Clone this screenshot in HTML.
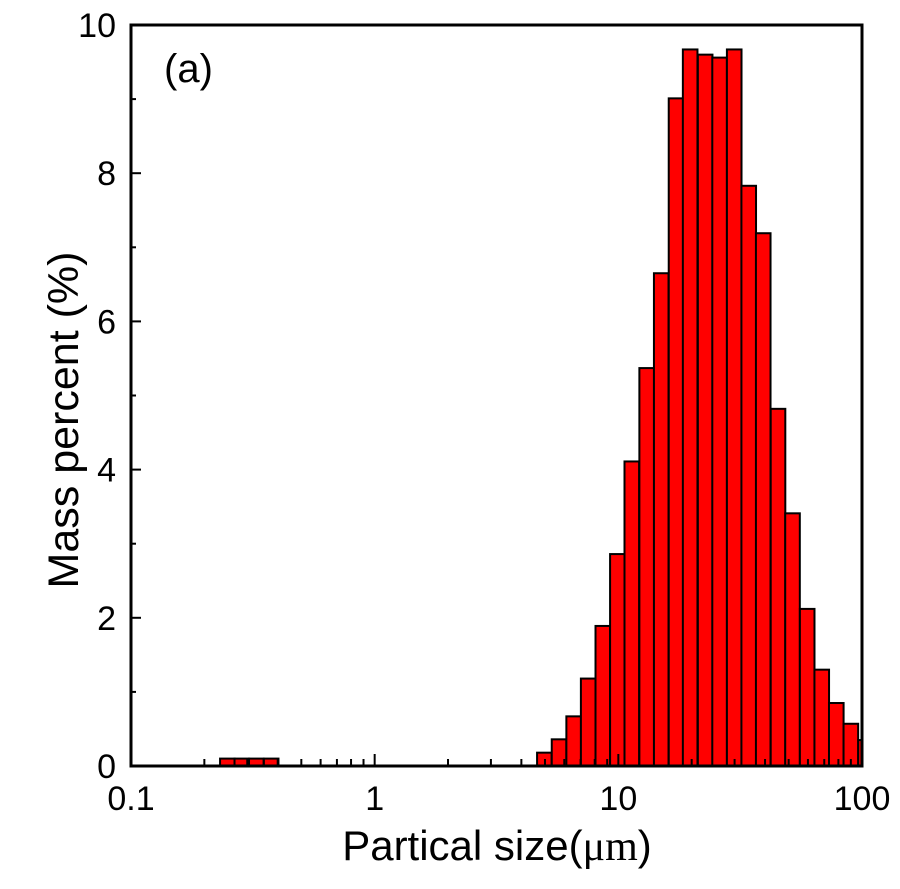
<!DOCTYPE html>
<html><head><meta charset="utf-8"><style>
body{margin:0;background:#fff;width:900px;height:884px;overflow:hidden}
svg text{font-family:"Liberation Sans",sans-serif;fill:#000}
</style></head><body>
<svg id="chart" width="900" height="884" xmlns="http://www.w3.org/2000/svg">
<g id="bars"></g>
<g id="axes"></g>
<text x="164" y="82" font-size="40">(a)</text>
<text transform="translate(78,420) rotate(-90)" text-anchor="middle" font-size="43">Mass percent (%)</text>
<text x="497" y="860" text-anchor="middle" font-size="42">Partical size(<tspan font-family="Liberation Serif,serif">μm</tspan>)</text>
</svg>
<script>
const smallBinStarts=[0.232,0.266,0.305,0.351];
const smallValues=[0.1,0.1,0.1,0.1];
const binStarts=[4.64,5.33,6.12,7.02,8.06,9.25,10.6,12.2,14.0,16.1,18.4,21.2,24.3,27.9,32.0,36.7,42.2,48.4,55.6,63.8,73.2,84.0,96.5];
const values=[0.18,0.36,0.67,1.18,1.89,2.86,4.11,5.37,6.65,9.01,9.67,9.60,9.56,9.67,7.83,7.19,4.82,3.41,2.12,1.30,0.85,0.57,0.35];
const yTicks=[0,2,4,6,8,10];
const xTicks=[0.1,1,10,100];
const binRatio=1.148;
const L=131,R=862,T=25,B=766;
const NS="http://www.w3.org/2000/svg";
const xs=v=>L+(Math.log10(v)+1)/3*(R-L);
const ys=v=>B-v/10*(B-T);
function mk(tag,attrs,parent){const e=document.createElementNS(NS,tag);for(const k in attrs)e.setAttribute(k,attrs[k]);parent.appendChild(e);return e;}
const bars=document.getElementById('bars'),axes=document.getElementById('axes');
function drawBars(starts,vals,nm){starts.forEach((s,i)=>{
 const x0=xs(s),x1=Math.min(R,xs(s*binRatio));
 const r=mk('rect',{x:x0,y:ys(vals[i]),width:x1-x0,height:B-ys(vals[i]),fill:'#ff0000',stroke:'#000','stroke-width':2},bars);
 
 
});}
drawBars(smallBinStarts,smallValues,'fine');
drawBars(binStarts,values,'main');
const frame=mk('rect',{x:L,y:T,width:R-L,height:B-T,fill:'none',stroke:'#000','stroke-width':3},axes);


yTicks.forEach(v=>{
 mk('line',{x1:L,x2:L+10,y1:ys(v),y2:ys(v),stroke:'#000','stroke-width':2},axes);
 if(v<10)mk('line',{x1:L,x2:L+5,y1:ys(v+1),y2:ys(v+1),stroke:'#000','stroke-width':2},axes);
 const t=mk('text',{x:L-15,y:ys(v)+12,'text-anchor':'end','font-size':34},axes);t.textContent=v;
 
 
});
xTicks.forEach((v,i)=>{
 mk('line',{x1:xs(v),x2:xs(v),y1:B,y2:B-12,stroke:'#000','stroke-width':2},axes);
 if(i<3)for(let m=2;m<=9;m++)mk('line',{x1:xs(v*m),x2:xs(v*m),y1:B,y2:B-7,stroke:'#000','stroke-width':2},axes);
 const t=mk('text',{x:xs(v),y:B+44,'text-anchor':'middle','font-size':34},axes);t.textContent=v;
 
 
});
</script>
</body></html>
